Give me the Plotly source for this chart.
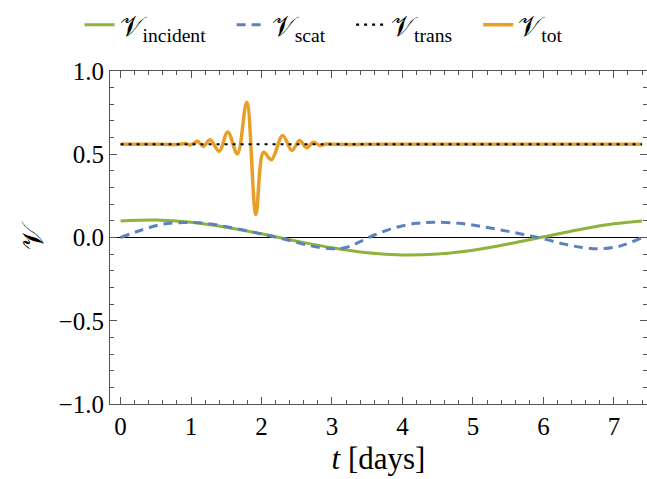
import plotly.graph_objects as go

# ---- data ----
t_inc = [0.0, 0.5, 1.0, 1.5, 2.0, 2.5, 3.0, 3.5, 4.0, 4.5, 5.0, 5.5, 6.0, 6.5, 7.0, 7.4]
v_inc = [0.099, 0.105, 0.092, 0.062, 0.022, -0.022, -0.062, -0.092, -0.105, -0.099,
         -0.076, -0.039, 0.004, 0.047, 0.082, 0.099]

t_scat = [0.0, 0.3, 0.6, 0.9, 1.2, 1.5, 1.8, 2.1, 2.4, 2.7, 3.0, 3.2, 3.4, 3.6, 3.9,
          4.2, 4.45, 4.8, 5.1, 5.4, 5.7, 6.0, 6.3, 6.55, 6.8, 7.1, 7.4]
v_scat = [0.0, 0.045, 0.08, 0.09, 0.085, 0.065, 0.04, 0.012, -0.018, -0.05, -0.068,
          -0.06, -0.025, 0.015, 0.06, 0.085, 0.092, 0.085, 0.068, 0.045, 0.02, -0.008,
          -0.04, -0.06, -0.068, -0.05, 0.0]

t_trans = [0.0, 7.4]
v_trans = [0.56, 0.56]

t_tot = [0.0, 0.4, 0.85, 0.92, 0.98, 1.03, 1.09, 1.175, 1.27, 1.40, 1.52, 1.657, 1.79,
         1.92, 2.03, 2.14, 2.30, 2.43, 2.54, 2.64, 2.735, 2.83, 2.92, 3.0, 4.0, 5.0,
         6.0, 7.4]
v_tot = [0.56, 0.56, 0.56, 0.565, 0.556, 0.562, 0.578, 0.547, 0.587, 0.518, 0.633,
         0.503, 0.813, 0.138, 0.512, 0.467, 0.613, 0.523, 0.583, 0.539, 0.572, 0.553,
         0.562, 0.56, 0.56, 0.56, 0.56, 0.56]

x_ticks = [0, 1, 2, 3, 4, 5, 6, 7]
y_ticks = [-1.0, -0.5, 0.0, 0.5, 1.0]

GREEN = "#8DB33A"
BLUE = "#5B82BF"
ORANGE = "#E6A02A"
FONT = "Liberation Serif, DejaVu Serif, serif"
AX = "#555555"
PAD = "&nbsp;&nbsp;&nbsp;"

fig = go.Figure()
fig.add_trace(go.Scatter(x=t_inc, y=v_inc, mode="lines", line_shape="spline",
                         line=dict(color=GREEN, width=3),
                         name="𝒱<sub>incident</sub>" + PAD, legendrank=1))
fig.add_trace(go.Scatter(x=t_scat, y=v_scat, mode="lines", line_shape="spline",
                         line=dict(color=BLUE, width=3, dash="9px,6px"),
                         name="𝒱<sub>scat</sub>" + PAD, legendrank=2))
fig.add_trace(go.Scatter(x=t_tot, y=v_tot, mode="lines", line_shape="spline",
                         line=dict(color=ORANGE, width=3.5),
                         name="𝒱<sub>tot</sub>", legendrank=4))
fig.add_trace(go.Scatter(x=t_trans, y=v_trans, mode="lines",
                         line=dict(color="black", width=2.2, dash="3px,5px"),
                         name="𝒱<sub>trans</sub>" + PAD, legendrank=3))
# invisible helper trace (reuses the trans data) so the mirror tick axes are drawn
fig.add_trace(go.Scatter(x=t_trans, y=v_trans, mode="lines", xaxis="x2", yaxis="y2",
                         line=dict(color="rgba(0,0,0,0)", width=0),
                         showlegend=False, hoverinfo="skip"))

fig.update_layout(
    width=647, height=479,
    margin=dict(l=110, r=0, t=71, b=75),
    paper_bgcolor="white", plot_bgcolor="white",
    font=dict(family=FONT, size=25, color="black"),
    showlegend=True,
    legend=dict(orientation="h", x=0.5, xanchor="center", xref="container",
                y=1.0, yanchor="top", yref="container",
                font=dict(family=FONT, size=28, color="black"),
                bgcolor="rgba(0,0,0,0)", itemwidth=30),
)

fig.update_xaxes(
    range=[-0.15, 7.47], tickvals=x_ticks, ticks="inside", ticklen=7, tickwidth=1.2,
    tickcolor=AX, showline=True, linecolor=AX, linewidth=1.2, mirror=False,
    showgrid=False, zeroline=False,
    minor=dict(dtick=0.2, ticks="inside", ticklen=4, tickwidth=1, tickcolor=AX, showgrid=False),
    title=dict(text="<i>t</i> [days]", font=dict(family=FONT, size=31), standoff=8),
    tickfont=dict(family=FONT, size=25),
)
fig.update_yaxes(
    range=[-1.0, 1.0], tickvals=y_ticks, tickformat=".1f", ticks="inside", ticklen=7,
    tickwidth=1.2, tickcolor=AX, showline=True, linecolor=AX, linewidth=1.2,
    mirror=False, showgrid=False, zeroline=True, zerolinecolor="black", zerolinewidth=1,
    minor=dict(dtick=0.1, ticks="inside", ticklen=4, tickwidth=1, tickcolor=AX, showgrid=False),
    title=dict(text="𝒱", font=dict(family=FONT, size=30), standoff=6),
    tickfont=dict(family=FONT, size=25),
)
fig.update_layout(
    xaxis2=dict(
        overlaying="x", side="top", anchor="y2", range=[-0.15, 7.47], tickvals=x_ticks,
        ticks="inside", ticklen=7, tickwidth=1.2, tickcolor=AX, showticklabels=False,
        showline=True, linecolor=AX, linewidth=1.2, showgrid=False, zeroline=False,
        minor=dict(dtick=0.2, ticks="inside", ticklen=4, tickwidth=1, tickcolor=AX,
                   showgrid=False),
    ),
    yaxis2=dict(
        overlaying="y", side="right", anchor="x2", range=[-1.0, 1.0], tickvals=y_ticks,
        ticks="inside", ticklen=7, tickwidth=1.2, tickcolor=AX, showticklabels=False,
        showline=False, showgrid=False, zeroline=False,
        minor=dict(dtick=0.1, ticks="inside", ticklen=4, tickwidth=1, tickcolor=AX,
                   showgrid=False),
    ),
)

fig.write_html("out.html")
